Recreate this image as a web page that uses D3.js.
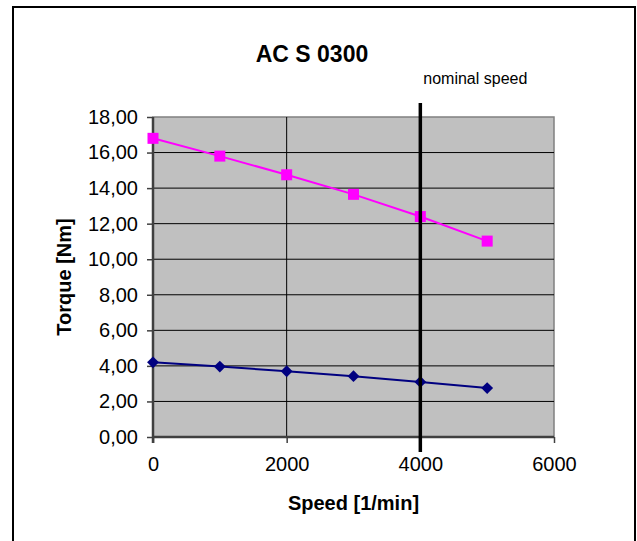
<!DOCTYPE html>
<html>
<head>
<meta charset="utf-8">
<script src="https://cdn.jsdelivr.net/npm/d3@7"></script>
<style>
  html, body { margin: 0; padding: 0; background: #fff; }
  svg { display: block; font-family: Arial, "Liberation Sans", sans-serif; }
</style>
</head>
<body>
<svg id="chart" width="637" height="541"></svg>
<script>
// speeds [1/min] and torque [Nm]
const speeds = [0, 1000, 2000, 3000, 4000, 5000];
const torqueUpper = [16.8, 15.8, 14.75, 13.65, 12.4, 11.02];
const torqueLower = [4.2, 3.96, 3.7, 3.42, 3.1, 2.75];
const nominalSpeed = 4000;
const xTicks = [0, 2000, 4000, 6000];
const yTicks = [0, 2, 4, 6, 8, 10, 12, 14, 16, 18];
const chartTitle = "AC S 0300";

const svg = d3.select("#chart");
const margin = { top: 117, right: 83, bottom: 104, left: 153 };
const W = +svg.attr("width"), H = +svg.attr("height");
const innerW = W - margin.left - margin.right;
const innerH = H - margin.top - margin.bottom;

// outer frame (bottom edge runs off the picture)
svg.append("rect")
  .attr("x", 13).attr("y", 7)
  .attr("width", 622).attr("height", 560)
  .attr("fill", "none").attr("stroke", "#000").attr("stroke-width", 2);

const x = d3.scaleLinear().domain([0, 6000]).range([0, innerW]);
const y = d3.scaleLinear().domain([0, 18]).range([innerH, 0]);

const g = svg.append("g").attr("transform", `translate(${margin.left},${margin.top})`);

g.append("rect")
  .attr("width", innerW).attr("height", innerH)
  .attr("fill", "#c0c0c0").attr("stroke", "#808080").attr("stroke-width", 1.5);

// gridlines
g.append("g").selectAll("line.hg")
  .data(yTicks.filter((d) => d > 0 && d < 18))
  .join("line")
  .attr("x1", 0).attr("x2", innerW)
  .attr("y1", (d) => y(d)).attr("y2", (d) => y(d))
  .attr("stroke", "#000").attr("stroke-width", 1);
g.append("g").selectAll("line.vg")
  .data(xTicks.filter((d) => d > 0 && d < 6000))
  .join("line")
  .attr("x1", (d) => x(d)).attr("x2", (d) => x(d))
  .attr("y1", 0).attr("y2", innerH)
  .attr("stroke", "#000").attr("stroke-width", 1);

// axes
const yAxis = g.append("g")
  .call(d3.axisLeft(y).tickValues(yTicks).tickSize(6).tickPadding(9)
    .tickFormat((d) => d3.format(".2f")(d).replace(".", ",")));
const xAxis = g.append("g")
  .attr("transform", `translate(0,${innerH})`)
  .call(d3.axisBottom(x).tickValues(xTicks).tickSize(6).tickPadding(14)
    .tickFormat(d3.format("d")));
[yAxis, xAxis].forEach((a) => {
  a.select(".domain").attr("stroke", "#404040").attr("stroke-width", 2.5);
  a.selectAll(".tick line").attr("stroke", "#404040").attr("stroke-width", 1.5);
  a.selectAll(".tick text").attr("font-size", 20).attr("fill", "#000")
    .attr("font-family", "Arial, 'Liberation Sans', sans-serif");
});
yAxis.select(".domain").attr("d", `M0,0V${innerH + 6}`);
xAxis.select(".domain").attr("d", `M0,0H${innerW}`);

// series
const line = d3.line().x((d) => x(d[0])).y((d) => y(d[1]));
const upper = speeds.map((s, i) => [s, torqueUpper[i]]);
const lower = speeds.map((s, i) => [s, torqueLower[i]]);

g.append("path").datum(lower).attr("d", line)
  .attr("fill", "none").attr("stroke", "#000080").attr("stroke-width", 2);
g.append("g").selectAll("path")
  .data(lower).join("path")
  .attr("d", d3.symbol(d3.symbolSquare, 70))
  .attr("transform", (d) => `translate(${x(d[0])},${y(d[1])}) rotate(45)`)
  .attr("fill", "#000080");

g.append("path").datum(upper).attr("d", line)
  .attr("fill", "none").attr("stroke", "#ff00ff").attr("stroke-width", 2);
g.append("g").selectAll("rect")
  .data(upper).join("rect")
  .attr("x", (d) => x(d[0]) - 5.5).attr("y", (d) => y(d[1]) - 5.5)
  .attr("width", 11).attr("height", 11)
  .attr("fill", "#ff00ff");

// nominal speed marker
g.append("line")
  .attr("x1", x(nominalSpeed)).attr("x2", x(nominalSpeed))
  .attr("y1", -14).attr("y2", innerH + 15)
  .attr("stroke", "#000").attr("stroke-width", 3.5);
g.append("text")
  .attr("x", x(nominalSpeed) + 55).attr("y", -33)
  .attr("text-anchor", "middle").attr("font-size", 16)
  .text("nominal speed");

// titles
svg.append("text")
  .attr("x", 312).attr("y", 62)
  .attr("text-anchor", "middle").attr("font-size", 23).attr("font-weight", "bold")
  .text(chartTitle);
svg.append("text")
  .attr("x", margin.left + innerW / 2).attr("y", 510)
  .attr("text-anchor", "middle").attr("font-size", 20).attr("font-weight", "bold")
  .text("Speed [1/min]");
svg.append("text")
  .attr("transform", `translate(71,${margin.top + innerH / 2}) rotate(-90)`)
  .attr("text-anchor", "middle").attr("font-size", 20).attr("font-weight", "bold")
  .text("Torque [Nm]");
</script>
</body>
</html>
